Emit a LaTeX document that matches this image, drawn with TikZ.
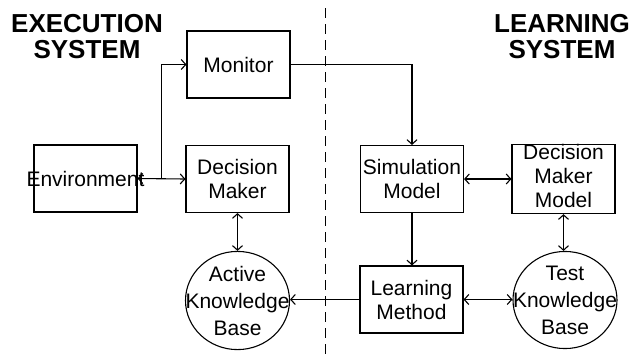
\documentclass[tikz,border=0pt]{standalone}
\usepackage{fontspec}
\setmainfont{Liberation Sans}
\usetikzlibrary{arrows.meta,shapes.geometric}
\newcommand{\zw}[1]{\makebox[0pt][c]{#1}}
\begin{document}
\begin{tikzpicture}[x=1pt,y=-1pt,
 box/.style={draw, line width=1.1pt, inner sep=0pt, minimum width=103pt, minimum height=67pt, align=center, font=\fontsize{21}{24}\selectfont},
 kb/.style={draw, ellipse, line width=1.1pt, inner sep=0pt, minimum width=104pt, minimum height=95pt, align=center, font=\fontsize{21}{27}\selectfont},
 conn/.style={line width=1.1pt, -{Straight Barb[length=4.5pt,width=10pt]}},
 both/.style={line width=1.1pt, {Straight Barb[length=4.5pt,width=10pt]}-{Straight Barb[length=4.5pt,width=10pt]}},
 title/.style={align=center, font=\fontsize{26}{26}\selectfont\bfseries, inner sep=0pt}]
\useasboundingbox (0,0) rectangle (633,357);
\node[title] (t1) at (87,37) {EXECUTION\\SYSTEM};
\node[title] (t2) at (562,37) {LEARNING\\SYSTEM};
\draw[line width=1pt, dash pattern=on 10pt off 6pt] (325,8) -- (325,357);
\node[box] (mon) at (238.5,64.5) {\zw{Monitor}};
\node[box] (env) at (85.5,178.5) {\zw{Environment}};
\node[box] (dm) at (237.5,179) {\zw{Decision}\\\zw{Maker}};
\node[box] (sim) at (412,179) {\zw{Simulation}\\\zw{Model}};
\node[box] (dmm) at (563.5,179) {\zw{Decision}\\\zw{Maker}\\\zw{Model}\rule[-6pt]{0pt}{0pt}};
\node[box] (lm) at (411.5,299.5) {\zw{Learning}\\\zw{Method}};
\node[kb] (akb) at (237.5,300.5) {\zw{Active}\\\zw{Knowledge}\\\zw{Base}};
\node[kb] (tkb) at (565,300) {\zw{Test}\\\zw{Knowledge}\\\zw{Base}};
\draw[both] (env.east) -- (dm.west);
\path (env.east) -- (dm.west) coordinate[pos=0.5] (j);
\draw[conn] (j) |- (mon.west);
\draw[conn] (mon.east) -| (sim.north);
\draw[both] (sim.east) -- (dmm.west);
\draw[conn] (sim.south) -- (sim.south |- lm.north);
\draw[conn] (lm.west) -- (lm.west -| akb.east);
\draw[both] (lm.east) -- (lm.east -| tkb.west);
\draw[both] (dm.south) -- (dm.south |- akb.north);
\draw[both] (dmm.south) -- (dmm.south |- tkb.north);
\end{tikzpicture}
\end{document}
